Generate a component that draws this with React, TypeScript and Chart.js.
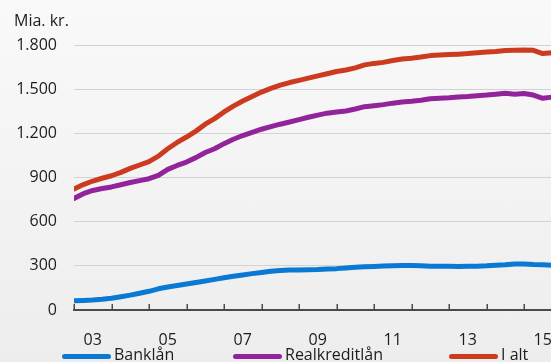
import { useEffect, useRef } from "react";
import { Chart, registerables } from "chart.js";

Chart.register(...registerables);

const quarters = [
  "2003Q1", "2003Q2", "2003Q3", "2003Q4",
  "2004Q1", "2004Q2", "2004Q3", "2004Q4",
  "2005Q1", "2005Q2", "2005Q3", "2005Q4",
  "2006Q1", "2006Q2", "2006Q3", "2006Q4",
  "2007Q1", "2007Q2", "2007Q3", "2007Q4",
  "2008Q1", "2008Q2", "2008Q3", "2008Q4",
  "2009Q1", "2009Q2", "2009Q3", "2009Q4",
  "2010Q1", "2010Q2", "2010Q3", "2010Q4",
  "2011Q1", "2011Q2", "2011Q3", "2011Q4",
  "2012Q1", "2012Q2", "2012Q3", "2012Q4",
  "2013Q1", "2013Q2", "2013Q3", "2013Q4",
  "2014Q1", "2014Q2", "2014Q3", "2014Q4",
  "2015Q1", "2015Q2", "2015Q3", "2015Q4",
];

const bankLaan = [
  63, 65, 68, 73,
  80, 90, 101, 114,
  127, 144, 156, 166,
  176, 187, 197, 208,
  219, 229, 238, 247,
  255, 263, 268, 271,
  272, 274, 275, 278,
  281, 286, 290, 293,
  296, 299, 301, 302,
  302, 300, 298, 297,
  297, 296, 297, 298,
  300, 304, 307, 312,
  313, 309, 307, 304,
];

const realkreditLaan = [
  758, 790, 812, 825,
  836, 851, 866, 879,
  892, 915, 955, 982,
  1005, 1035, 1070, 1095,
  1130, 1160, 1185, 1207,
  1228, 1245, 1262, 1277,
  1293, 1309, 1324, 1337,
  1345, 1352, 1365, 1381,
  1388, 1395, 1405, 1413,
  1418, 1425, 1435, 1438,
  1441, 1446, 1450, 1456,
  1460, 1466, 1472, 1466,
  1470, 1460, 1438, 1446,
];

const iAlt = [
  822, 852, 876, 895,
  912, 935, 962, 985,
  1008, 1045, 1095, 1138,
  1175, 1215, 1262, 1300,
  1345, 1385, 1420, 1450,
  1480, 1505, 1527, 1545,
  1560, 1575, 1590, 1605,
  1620, 1630, 1645, 1665,
  1675, 1682, 1695, 1705,
  1710, 1718, 1728, 1732,
  1735, 1738, 1742, 1748,
  1752, 1756, 1762, 1765,
  1766, 1764, 1742, 1748,
];

const yTickValues = [0, 300, 600, 900, 1200, 1500, 1800];
const yTickLabels = ["0", "300", "600", "900", "1.200", "1.500", "1.800"];
const xLabelYears = [2003, 2005, 2007, 2009, 2011, 2013, 2015];
const xTickLabels = ["03", "05", "07", "09", "11", "13", "15"];

const seriesNames = ["Banklån", "Realkreditlån", "I alt"];
const seriesColors = ["#0a79d3", "#93239b", "#cc3b1f"];
const seriesData = [bankLaan, realkreditLaan, iAlt];

const FONT = "'Open Sans', 'Noto Sans', sans-serif";
const TEXT = "#1c1c1c";

function quarterToYear(q: string): number {
  return Number(q.slice(0, 4)) + (Number(q.slice(5)) - 1) / 4;
}

const tickMarks = {
  id: "tickMarks",
  afterDraw(chart: any) {
    const xs = chart.scales.x;
    const ctx = chart.ctx;
    const bottom = chart.chartArea.bottom;
    ctx.save();
    ctx.strokeStyle = "#4a4a4a";
    ctx.lineWidth = 1.5;
    for (let yr = Math.ceil(xs.min); yr <= xs.max; yr++) {
      const px = Math.round(xs.getPixelForValue(yr)) + 0.25;
      ctx.beginPath();
      ctx.moveTo(px, bottom);
      ctx.lineTo(px, bottom - 6);
      ctx.stroke();
    }
    ctx.restore();
  },
};

export default function App() {
  const ref = useRef<HTMLCanvasElement | null>(null);

  useEffect(() => {
    if (!ref.current) return;
    const xs = quarters.map(quarterToYear);
    const chart = new Chart(ref.current, {
      type: "line",
      data: {
        datasets: seriesData.map((vals, i) => ({
          label: seriesNames[i],
          data: vals.map((v, j) => ({ x: xs[j], y: v })),
          borderColor: seriesColors[i],
          backgroundColor: seriesColors[i],
          borderWidth: 5,
          pointRadius: 0,
          tension: 0,
          borderJoinStyle: "round" as const,
          borderCapStyle: "round" as const,
        })),
      },
      options: {
        animation: false,
        responsive: false,
        maintainAspectRatio: false,
        layout: { padding: { top: 45, left: 0, right: 19.75, bottom: 0 } },
        plugins: {
          legend: { display: false },
          tooltip: { enabled: false },
          title: { display: false },
        },
        scales: {
          x: {
            type: "linear",
            min: 2003,
            max: 2016.5,
            grid: { display: false },
            border: { display: true, color: "#4a4a4a", width: 2 },
            afterBuildTicks: (s: any) => {
              s.ticks = xLabelYears.map((y) => ({ value: y + 0.5 }));
            },
            afterFit: (s: any) => {
              s.height = 35;
            },
            ticks: {
              autoSkip: false,
              maxRotation: 0,
              padding: 13,
              color: TEXT,
              font: { family: FONT, size: 16 },
              callback: (v: any) => {
                const i = xLabelYears.findIndex((y) => Math.abs(y + 0.5 - Number(v)) < 1e-6);
                return i >= 0 ? xTickLabels[i] : "";
              },
            },
          },
          y: {
            min: 0,
            max: 1800,
            grid: { color: "#d2d2d2", lineWidth: 1, drawTicks: false },
            border: { display: false },
            afterBuildTicks: (s: any) => {
              s.ticks = yTickValues.map((v) => ({ value: v }));
            },
            afterFit: (s: any) => {
              s.width = 74;
            },
            ticks: {
              padding: 17,
              color: TEXT,
              font: { family: FONT, size: 16 },
              callback: (v: any) => {
                const i = yTickValues.indexOf(Number(v));
                return i >= 0 ? yTickLabels[i] : "";
              },
            },
          },
        },
      },
      plugins: [tickMarks],
    });
    return () => chart.destroy();
  }, []);

  const legendLeft = [62, 233, 449];

  return (
    <div
      style={{
        position: "absolute",
        left: 0,
        top: 0,
        width: 551,
        height: 362,
        overflow: "hidden",
        background: "linear-gradient(#f9f9f9, #ededed)",
        fontFamily: FONT,
        color: TEXT,
      }}
    >
      <canvas
        ref={ref}
        width={600}
        height={345}
        style={{ position: "absolute", left: 0, top: 0, width: 600, height: 345 }}
      />
      <div style={{ position: "absolute", left: 14, top: 9, fontSize: 16, whiteSpace: "nowrap" }}>
        Mia. kr.
      </div>
      {seriesNames.map((name, i) => (
        <div
          key={name}
          style={{
            position: "absolute",
            left: legendLeft[i],
            top: 343,
            display: "flex",
            alignItems: "center",
            fontSize: 16,
            whiteSpace: "nowrap",
          }}
        >
          <span
            style={{
              display: "inline-block",
              width: 49,
              height: 5,
              borderRadius: 3,
              background: seriesColors[i],
              position: "relative",
              top: 2.5,
              marginRight: 3,
            }}
          />
          <span>{name}</span>
        </div>
      ))}
    </div>
  );
}
